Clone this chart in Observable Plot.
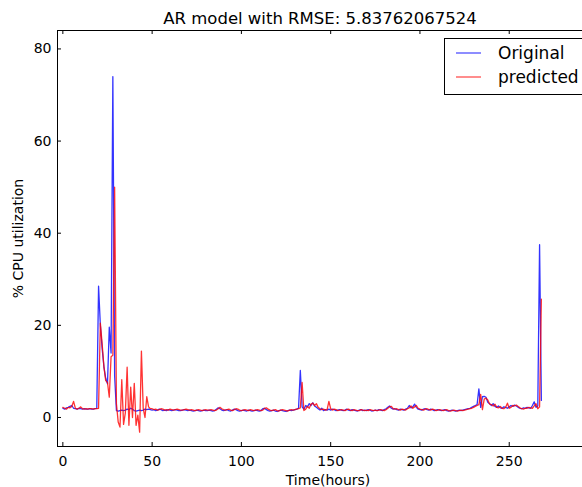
<!DOCTYPE html>
<html>
<head>
<meta charset="utf-8">
<script src="https://cdn.jsdelivr.net/npm/d3@7"></script>
<script src="https://cdn.jsdelivr.net/npm/@observablehq/plot@0.6"></script>
<style>
  html, body { margin: 0; padding: 0; background: #fff; overflow: hidden; }
  #chart { width: 582px; height: 487px; overflow: hidden; }
  #chart svg { max-width: none !important; width: 600px !important; height: 487px !important; }
</style>
</head>
<body>
<div id="chart"></div>
<script>
const titleText = "AR model with RMSE: 5.83762067524";
const seriesNames = ["Original", "predicted"];
const seriesColors = ["#0000ff", "#ff0000"];
const xTicks = [0, 50, 100, 150, 200, 250, 300];
const yTicks = [0, 20, 40, 60, 80];

const original = [
  2.0,1.8,2.1,2.2,2.4,2.6,2.0,1.9,1.8,2.0,
  1.9,1.8,1.9,1.8,1.8,1.9,1.8,1.8,1.9,2.0,
  28.5,20,15,11,8.5,7.3,19.6,14,74,9,
  1.5,1.4,1.5,1.6,1.5,1.6,1.8,1.7,2.0,1.8,
  1.5,1.4,1.5,1.6,1.5,1.6,1.8,1.7,1.8,1.7,
  1.6,1.7,1.5,1.6,1.8,1.7,1.5,1.6,1.5,1.7,
  1.6,1.5,1.6,1.7,1.6,1.5,1.5,1.6,1.7,1.6,
  1.5,1.6,1.5,1.4,1.5,1.6,1.5,1.4,1.5,1.6,
  1.5,1.5,1.6,1.5,1.4,1.5,1.8,2.1,1.9,1.6,
  1.5,1.6,1.7,1.5,1.4,1.6,1.8,1.7,1.5,1.4,
  1.5,1.6,1.5,1.4,1.6,1.5,1.4,1.5,1.6,1.5,
  1.4,1.5,1.9,2.0,1.7,1.5,1.4,1.5,1.6,1.4,
  1.3,1.5,1.6,1.5,1.4,1.3,1.5,1.6,1.5,1.6,
  1.7,1.8,
  2.0,10.2,2.3,1.8,2.6,2.3,3.0,2.6,3.2,2.5,2.2,1.9,1.6,2.0,1.5,1.7,1.6,1.8,
  1.6,1.8,1.7,1.5,1.6,1.7,1.6,1.5,1.6,1.8,
  1.6,1.5,1.7,1.6,1.5,1.4,1.6,1.7,1.5,1.6,
  1.5,1.7,1.6,1.4,1.5,1.6,1.5,1.7,1.6,1.5,
  1.7,1.9,2.2,2.5,2.0,1.8,1.9,1.7,1.6,1.8,
  1.7,1.6,1.8,2.0,2.6,2.1,2.3,2.9,2.2,1.8,
  1.7,1.6,1.8,1.9,1.7,1.6,1.8,1.7,1.5,1.6,
  1.7,1.6,1.5,1.6,1.7,1.5,1.4,1.5,1.6,1.5,
  1.4,1.5,1.6,1.5,1.6,1.7,1.8,1.9,2.0,2.2,
  2.4,
  2.6,2.8,6.2,2.2,4.5,4.6,4.4,3.3,3.0,2.6,
  3.0,2.4,2.2,2.5,2.1,2.0,2.3,2.2,2.0,2.3,
  2.6,2.4,2.7,2.5,2.2,2.0,1.9,2.1,2.0,2.2,
  2.1,2.0,2.6,3.4,2.2,2.5,37.5,3.7
];

const predicted = [
  2.2,2.0,1.8,2.2,2.1,2.4,3.5,2.0,1.8,2.0,
  2.3,1.9,1.8,1.9,1.8,1.9,1.9,1.8,1.9,1.9,
  2.0,20.5,16,11,8,7.6,4.4,13.2,13.5,50,
  3,-1,-2.1,8.2,-1.5,1,10.9,-1.7,6.6,0,
  7.4,-1.7,0.5,-3.2,14.4,2,0,4.5,2.3,1.9,
  1.9,1.7,1.8,1.6,1.7,1.9,1.8,1.6,1.7,1.6,
  1.8,1.7,1.6,1.7,1.8,1.7,1.6,1.6,1.7,1.8,
  1.7,1.6,1.7,1.6,1.5,1.6,1.7,1.6,1.5,1.6,
  1.7,1.6,1.6,1.7,1.6,1.5,1.6,1.9,2.2,1.9,
  1.7,1.6,1.7,1.8,1.6,1.5,1.7,1.9,1.8,1.6,
  1.5,1.6,1.7,1.6,1.5,1.7,1.6,1.5,1.6,1.7,
  1.6,1.5,1.6,2.0,2.1,1.8,1.6,1.5,1.6,1.7,
  1.5,1.4,1.6,1.7,1.6,1.5,1.4,1.6,1.7,1.6,
  1.7,1.8,
  1.9,2.1,7.6,1.5,1.8,2.4,2.0,2.9,3.1,2.6,3.0,2.2,1.9,1.7,1.8,1.6,1.7,3.5,
  1.9,1.6,1.8,1.7,1.5,1.6,1.7,1.6,1.5,1.7,
  1.8,1.6,1.5,1.7,1.6,1.5,1.5,1.7,1.6,1.5,
  1.6,1.5,1.7,1.6,1.5,1.6,1.5,1.6,1.7,1.6,
  1.5,1.7,2.0,2.3,2.4,1.9,1.8,1.9,1.7,1.6,
  1.8,1.7,1.6,1.9,2.1,2.5,2.0,2.3,2.6,2.0,
  1.8,1.7,1.6,1.8,1.9,1.7,1.6,1.8,1.7,1.5,
  1.6,1.7,1.6,1.5,1.6,1.7,1.5,1.4,1.5,1.6,
  1.5,1.4,1.5,1.6,1.5,1.6,1.7,1.8,1.9,2.0,
  2.2,
  2.4,2.6,2.8,5.0,1.7,4.0,4.2,3.8,2.9,2.8,
  2.5,2.9,2.2,2.1,2.4,2.0,1.9,2.2,3.1,2.0,
  2.2,2.6,2.5,2.7,2.4,2.1,1.9,1.8,2.0,2.0,
  2.2,2.1,2.0,2.5,3.0,1.9,2.3,25.7
];

const hours = original.map((_, i) => i);
const origRows = original.map((v, i) => ({hour: hours[i], value: v}));
const predRows = predicted.map((v, i) => ({hour: hours[i], value: v}));

// The figure is cropped on the right: the axes extend past the 582px view.
const W = 600, H = 487;
const mL = 57, mR = 2, mT = 30, mB = 41;
const fw = W - mL - mR, fh = H - mT - mB;
const tl = 4;

const svg = Plot.plot({
  width: W,
  height: H,
  marginLeft: mL,
  marginRight: mR,
  marginTop: mT,
  marginBottom: mB,
  style: {fontFamily: "DejaVu Sans, sans-serif", fontSize: "14px", color: "black", background: "white", overflow: "visible", maxWidth: "none"},
  x: {domain: [-3, 300]},
  y: {domain: [-6.3, 84]},
  marks: [
    Plot.axisX({ticks: xTicks.filter(t => t < 300), tickSize: 0, tickPadding: 10, label: "Time(hours)", labelAnchor: "center", labelOffset: 38, labelArrow: "none", fontSize: 14}),
    Plot.axisY({ticks: yTicks, tickSize: 0, tickPadding: 6, label: "% CPU utilization", labelAnchor: "center", labelOffset: 44, labelArrow: "none", fontSize: 14}),
    Plot.line(origRows, {x: "hour", y: "value", stroke: seriesColors[0], strokeOpacity: 0.8, strokeWidth: 1.3}),
    Plot.line(predRows, {x: "hour", y: "value", stroke: seriesColors[1], strokeOpacity: 0.8, strokeWidth: 1.3}),
    Plot.tickX(xTicks, {x: d => d, insetTop: fh - tl, stroke: "black"}),
    Plot.tickX(xTicks, {x: d => d, insetBottom: fh - tl, stroke: "black"}),
    Plot.tickY(yTicks, {y: d => d, insetRight: fw - tl, stroke: "black"}),
    Plot.tickY(yTicks, {y: d => d, insetLeft: fw - tl, stroke: "black"}),
    Plot.frame({stroke: "black", strokeWidth: 1}),
    Plot.text([titleText], {frameAnchor: "top", lineAnchor: "middle", dx: -8, dy: -12, fontSize: 16.5, fill: "black"})
  ]
});
svg.style.maxWidth = "none";
svg.style.width = W + "px";
svg.style.height = H + "px";

// legend (upper right)
const lg = d3.select(svg).append("g").attr("class", "legend").attr("text-anchor", "start");
const lx = 444, ly = 38, lw = 146, lh = 56;
lg.append("rect").attr("x", lx + 0.5).attr("y", ly + 0.5).attr("width", lw).attr("height", lh)
  .attr("fill", "white").attr("stroke", "black").attr("stroke-width", 1);
seriesNames.forEach((name, i) => {
  const yy = ly + 15 + i * 24;
  lg.append("line").attr("x1", lx + 12).attr("x2", lx + 37).attr("y1", yy).attr("y2", yy)
    .attr("stroke", seriesColors[i]).attr("stroke-opacity", 0.6).attr("stroke-width", 1.5);
  lg.append("text").attr("x", lx + 54).attr("y", yy).attr("dy", "0.35em")
    .attr("text-anchor", "start").attr("font-size", 17).attr("fill", "black").text(name);
});

document.getElementById("chart").appendChild(svg);
</script>
</body>
</html>
